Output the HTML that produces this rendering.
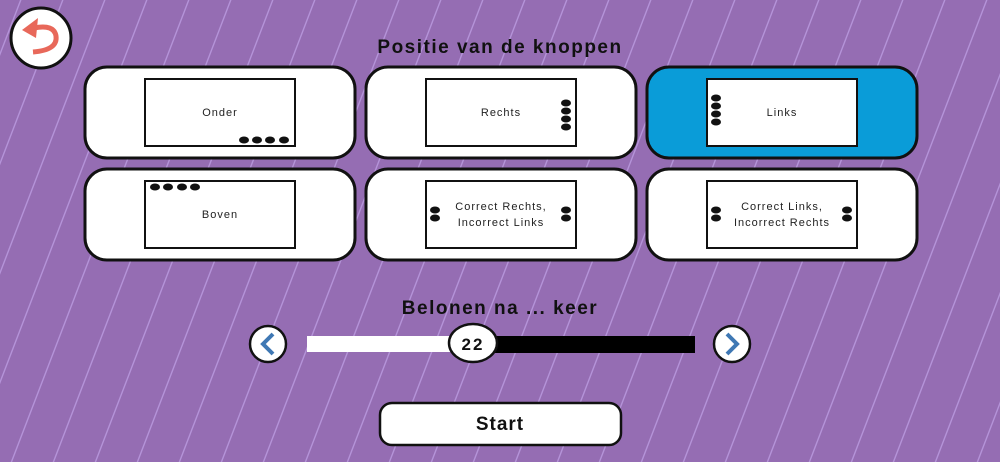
<!DOCTYPE html>
<html><head><style>
body{margin:0;width:1000px;height:462px;overflow:hidden;background:#956db3;font-family:"Liberation Sans",sans-serif}
</style></head><body>
<svg width="1000" height="462" xmlns="http://www.w3.org/2000/svg" style="position:absolute;left:0;top:0">
<defs>
<pattern id="st" width="42" height="20" patternUnits="userSpaceOnUse" patternTransform="skewX(-21)">
<rect x="20" y="0" width="1.5" height="20" fill="#b493d8"/>
</pattern>
</defs>
<rect width="1000" height="462" fill="url(#st)"/>
<circle cx="41" cy="38" r="30" fill="#fff" stroke="#111" stroke-width="3"/>
<path d="M33 52 Q58 50 56 36 Q54 24 34 28" fill="none" stroke="#e8685a" stroke-width="5"/>
<path d="M22 30 L38 18 L36 38 Z" fill="#e8685a"/>
<g font-size="19" fill="#111" text-anchor="middle" letter-spacing="1.5" font-weight="bold">
<text x="500" y="53">Positie van de knoppen</text>
<text x="500" y="314">Belonen na ... keer</text>
</g>
<g stroke="#111" stroke-width="3">
<rect x="85" y="67" width="270" height="91" rx="22" fill="#fff"/>
<rect x="366" y="67" width="270" height="91" rx="22" fill="#fff"/>
<rect x="647" y="67" width="270" height="91" rx="22" fill="#0a9cd8"/>
<rect x="85" y="169" width="270" height="91" rx="22" fill="#fff"/>
<rect x="366" y="169" width="270" height="91" rx="22" fill="#fff"/>
<rect x="647" y="169" width="270" height="91" rx="22" fill="#fff"/>
</g>
<g stroke="#111" stroke-width="2" fill="#fff">
<rect x="145" y="79" width="150" height="67"/>
<rect x="426" y="79" width="150" height="67"/>
<rect x="707" y="79" width="150" height="67"/>
<rect x="145" y="181" width="150" height="67"/>
<rect x="426" y="181" width="150" height="67"/>
<rect x="707" y="181" width="150" height="67"/>
</g>
<g fill="#111">
<ellipse cx="244" cy="140" rx="5" ry="3.5"/><ellipse cx="257" cy="140" rx="5" ry="3.5"/><ellipse cx="270" cy="140" rx="5" ry="3.5"/><ellipse cx="284" cy="140" rx="5" ry="3.5"/>
<ellipse cx="566" cy="103" rx="5" ry="3.5"/><ellipse cx="566" cy="111" rx="5" ry="3.5"/><ellipse cx="566" cy="119" rx="5" ry="3.5"/><ellipse cx="566" cy="127" rx="5" ry="3.5"/>
<ellipse cx="716" cy="98" rx="5" ry="3.5"/><ellipse cx="716" cy="106" rx="5" ry="3.5"/><ellipse cx="716" cy="114" rx="5" ry="3.5"/><ellipse cx="716" cy="122" rx="5" ry="3.5"/>
<ellipse cx="155" cy="187" rx="5" ry="3.5"/><ellipse cx="168" cy="187" rx="5" ry="3.5"/><ellipse cx="182" cy="187" rx="5" ry="3.5"/><ellipse cx="195" cy="187" rx="5" ry="3.5"/>
<ellipse cx="435" cy="210" rx="5" ry="3.5"/><ellipse cx="435" cy="218" rx="5" ry="3.5"/><ellipse cx="566" cy="210" rx="5" ry="3.5"/><ellipse cx="566" cy="218" rx="5" ry="3.5"/>
<ellipse cx="716" cy="210" rx="5" ry="3.5"/><ellipse cx="716" cy="218" rx="5" ry="3.5"/><ellipse cx="847" cy="210" rx="5" ry="3.5"/><ellipse cx="847" cy="218" rx="5" ry="3.5"/>
</g>
<g font-size="11" fill="#222" text-anchor="middle" letter-spacing="1">
<text x="220" y="116">Onder</text>
<text x="501" y="116">Rechts</text>
<text x="782" y="116">Links</text>
<text x="220" y="218">Boven</text>
<text x="501" y="210">Correct Rechts,</text>
<text x="501" y="226">Incorrect Links</text>
<text x="782" y="210">Correct Links,</text>
<text x="782" y="226">Incorrect Rechts</text>
</g>
<rect x="307" y="336" width="160" height="16" fill="#fff"/>
<rect x="480" y="336" width="215" height="17" fill="#000"/>
<ellipse cx="473" cy="343" rx="24" ry="19" fill="#fff" stroke="#111" stroke-width="2.5"/>
<text x="473" y="350" font-size="17" text-anchor="middle" fill="#111" letter-spacing="2" font-weight="bold">22</text>
<circle cx="268" cy="344" r="18" fill="#fff" stroke="#111" stroke-width="2.5"/>
<path d="M273 334 L263 344 L273 354" fill="none" stroke="#3f78b4" stroke-width="4"/>
<circle cx="732" cy="344" r="18" fill="#fff" stroke="#111" stroke-width="2.5"/>
<path d="M727 334 L737 344 L727 354" fill="none" stroke="#3f78b4" stroke-width="4"/>
<rect x="380" y="403" width="241" height="42" rx="12" fill="#fff" stroke="#111" stroke-width="2.5"/>
<text x="500" y="430" font-size="19" text-anchor="middle" fill="#111" letter-spacing="1" font-weight="bold">Start</text>
</svg>
</body></html>
